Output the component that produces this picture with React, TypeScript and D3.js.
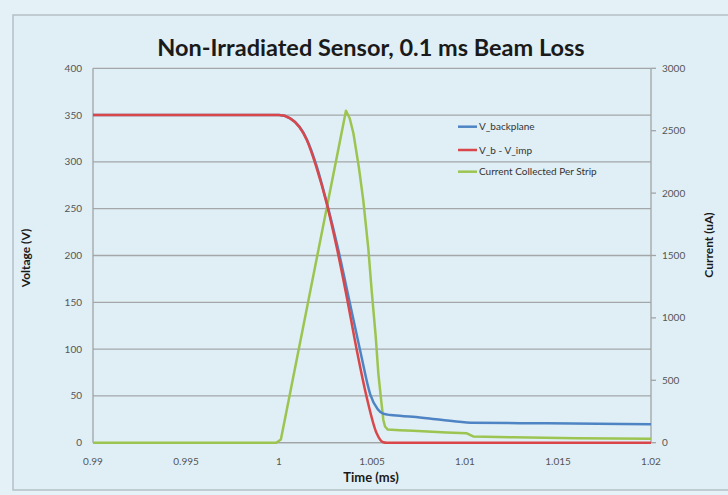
import React from "react";
import * as d3 from "d3";

const xTickValues = [0.99, 0.995, 1, 1.005, 1.01, 1.015, 1.02];
const xTickLabels = ["0.99", "0.995", "1", "1.005", "1.01", "1.015", "1.02"];
const voltageTicks = [0, 50, 100, 150, 200, 250, 300, 350, 400];
const currentTicks = [0, 500, 1000, 1500, 2000, 2500, 3000];

const seriesNames = ["V_backplane", "V_b - V_imp", "Current Collected Per Strip"];
const seriesColors = ["#4f84c4", "#d9474a", "#9cc450"];

const backplaneTime = [0.99, 1.0, 1.0006, 1.0015, 1.002, 1.00256, 1.0032, 1.0038, 1.0044, 1.0049, 1.0053, 1.0056, 1.006, 1.0072, 1.0087, 1.0103, 1.0144, 1.02];
const backplaneV = [350, 350, 346.5, 324, 297, 257, 205, 150, 95, 52, 36, 31, 29.5, 27.8, 24.5, 21.4, 20.7, 19.7];

const diffTime = [0.99, 1.0, 1.0006, 1.0015, 1.002, 1.00256, 1.0031, 1.00364, 1.00418, 1.00471, 1.00525, 1.0056, 1.0058, 1.02];
const diffV = [350, 350, 346.5, 323, 295, 256, 209, 156, 99, 49, 10, 0.5, 0, 0];

const currentTime = [0.99, 0.99985, 1.0001, 1.0004, 1.0036, 1.0038, 1.004, 1.0043, 1.00453, 1.0048, 1.00498, 1.0052, 1.00534, 1.0055, 1.00561, 1.0057, 1.00585, 1.0065, 1.0072, 1.009, 1.0101, 1.01044, 1.0126, 1.016, 1.0199, 1.02];
const currentUA = [0, 0, 25, 250, 2660, 2600, 2479, 2200, 1944, 1560, 1223, 850, 556, 330, 182, 130, 105, 100, 96, 82, 75, 50, 43, 36, 32, 32];

const FONT = "Lato, 'Liberation Sans', sans-serif";

export default function App() {
  const x = d3.scaleLinear().domain([0.99, 1.02]).range([93, 651]);
  const yV = d3.scaleLinear().domain([0, 400]).range([442.7, 68.3]);
  const yC = d3.scaleLinear().domain([0, 3000]).range([442.7, 68.3]);

  const mk = (ts: number[], vs: number[], ys: d3.ScaleLinear<number, number>, curve: d3.CurveFactory) =>
    d3
      .line<number>()
      .x((_, i) => x(ts[i]))
      .y((v) => ys(v))
      .curve(curve)(vs) as string;

  const backplanePath = mk(backplaneTime, backplaneV, yV, d3.curveMonotoneX);
  const diffPath = mk(diffTime, diffV, yV, d3.curveMonotoneX);
  const currentPath = mk(currentTime, currentUA, yC, d3.curveLinear);

  const [x0, x1] = x.range();
  const legendY = [126.7, 150, 171.7];

  return (
    <svg
      width={728}
      height={495}
      style={{ position: "absolute", left: 0, top: 0 }}
      fontFamily={FONT}
    >
      <rect x={0} y={0} width={728} height={495} fill="#e4f1f6" />
      <rect x={13} y={15} width={740} height={475} fill="#e0eff5" stroke="#b4c0c5" strokeWidth={1.5} />

      <text x={371} y={56} textAnchor="middle" fontSize={23.5} fontWeight="bold" fill="#1a1a1a">
        Non-Irradiated Sensor, 0.1 ms Beam Loss
      </text>

      {/* gridlines */}
      {voltageTicks.map((v) => (
        <line key={"g" + v} x1={x0} x2={x1} y1={yV(v)} y2={yV(v)} stroke="#a3a7a9" strokeWidth={1.3} />
      ))}

      {/* axes */}
      <line x1={x0} x2={x0} y1={yV(400)} y2={yV(0)} stroke="#a0a4a6" strokeWidth={1.3} />
      <line x1={x1} x2={x1} y1={yV(400)} y2={yV(0)} stroke="#a0a4a6" strokeWidth={1.3} />
      <line x1={x0} x2={x1} y1={yV(0)} y2={yV(0)} stroke="#a0a4a6" strokeWidth={1.3} />
      {currentTicks.map((c) => (
        <line key={"rt" + c} x1={x1} x2={x1 + 5} y1={yC(c)} y2={yC(c)} stroke="#a0a4a6" strokeWidth={1.3} />
      ))}

      {/* left tick labels */}
      {voltageTicks.map((v) => (
        <text key={"vl" + v} x={82} y={yV(v)} dy="0.35em" textAnchor="end" fontSize={10} fill="#555">
          {v}
        </text>
      ))}
      {/* right tick labels */}
      {currentTicks.map((c) => (
        <text key={"cl" + c} x={662} y={yC(c)} dy="0.35em" textAnchor="start" fontSize={10} fill="#555">
          {c}
        </text>
      ))}
      {/* x tick labels */}
      {xTickValues.map((t, i) => (
        <text key={"xl" + t} x={x(t)} y={461.7} dy="0.35em" textAnchor="middle" fontSize={10} fill="#555">
          {xTickLabels[i]}
        </text>
      ))}

      {/* axis titles */}
      <text transform="translate(26,258) rotate(-90)" textAnchor="middle" dy="0.35em" fontSize={12} fontWeight="bold" fill="#1a1a1a">
        Voltage (V)
      </text>
      <text transform="translate(709,245) rotate(-90)" textAnchor="middle" dy="0.35em" fontSize={12} fontWeight="bold" fill="#1a1a1a">
        Current (uA)
      </text>
      <text x={371} y={477} dy="0.35em" textAnchor="middle" fontSize={13} fontWeight="bold" fill="#1a1a1a">
        Time (ms)
      </text>

      {/* series */}
      <path d={currentPath} fill="none" stroke={seriesColors[2]} strokeWidth={2.5} strokeLinejoin="round" />
      <path d={backplanePath} fill="none" stroke={seriesColors[0]} strokeWidth={2.5} strokeLinejoin="round" />
      <path d={diffPath} fill="none" stroke={seriesColors[1]} strokeWidth={2.5} strokeLinejoin="round" />

      {/* legend */}
      {seriesNames.map((n, i) => (
        <g key={n}>
          <line x1={458} x2={477} y1={legendY[i]} y2={legendY[i]} stroke={seriesColors[i]} strokeWidth={2.5} />
          <text x={479} y={legendY[i]} dy="0.35em" fontSize={10} fill="#333">
            {n}
          </text>
        </g>
      ))}
    </svg>
  );
}
